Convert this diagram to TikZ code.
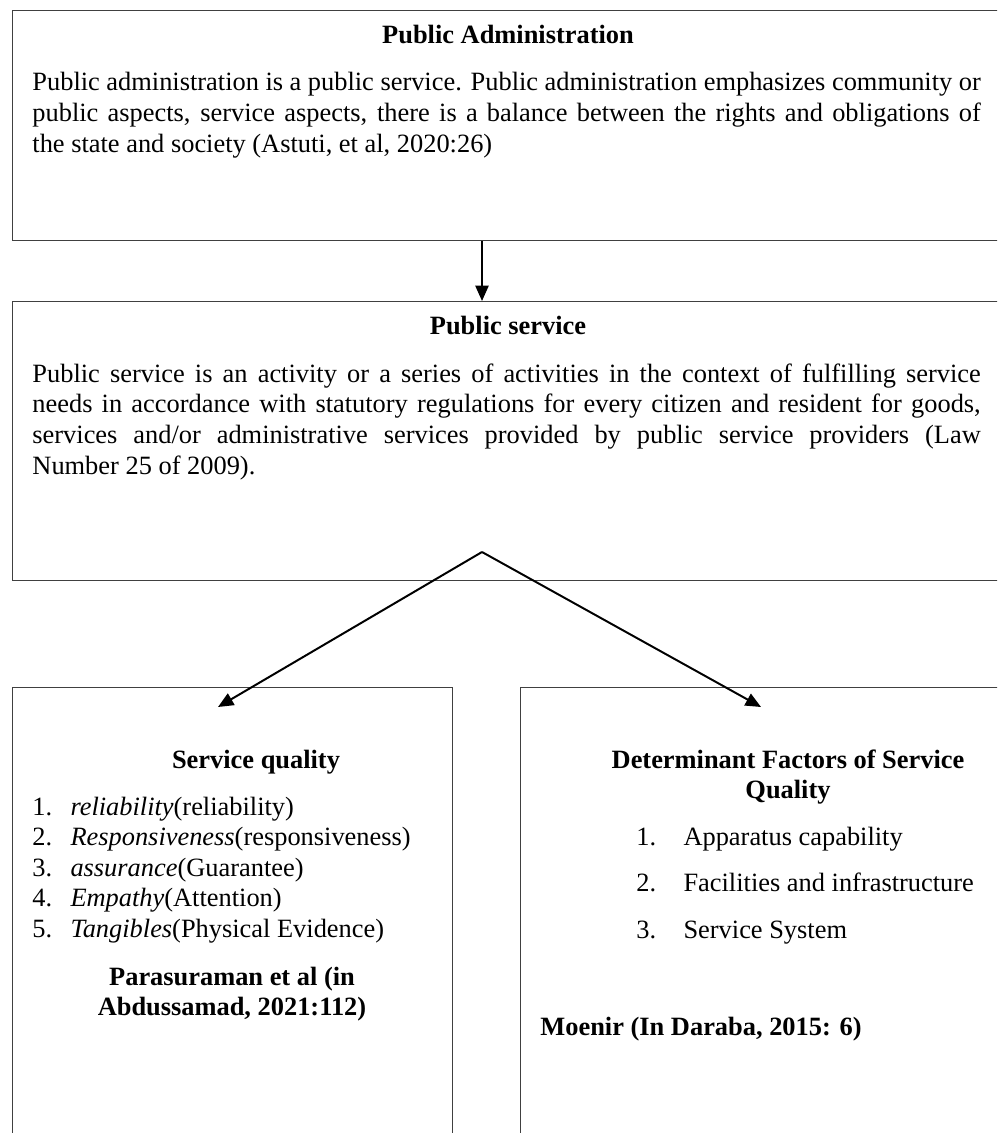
\documentclass[tikz,border=0pt]{standalone}
\usepackage{fontspec}
\setmainfont[Ligatures=NoCommon]{Liberation Serif}
\usepackage{tikz}
\usetikzlibrary{arrows.meta,positioning,calc}

\begin{document}
\begin{tikzpicture}[
    x=0.4545pt, y=-0.4545pt,
    panel/.style={rectangle, draw=black!75, line width=0.55pt, anchor=north west, inner sep=0pt},
    heading/.style={font=\fontsize{12}{13.6}\selectfont\bfseries, inner sep=0pt, anchor=base},
    body/.style={font=\fontsize{12}{13.95}\selectfont, text width=431pt, align=justify, inner sep=0pt, anchor=base west},
    list/.style={font=\fontsize{12}{13.86}\selectfont, align=left, inner sep=0pt, anchor=base west},
    arrow/.style={-{Triangle[length=7pt, width=6pt]}, line width=0.9pt, black}
]
    \useasboundingbox (0,0) rectangle (997,1133);
    \clip (0,0) rectangle (997,1133);

    % boxes
    \node[panel, minimum width=453.6pt, minimum height=104.5pt] (admin) at (12,10) {};
    \node[panel, minimum width=453.6pt, minimum height=126.8pt] (service) at (12,301) {};
    \node[panel, minimum width=200pt, minimum height=206pt] (quality) at (12,687) {};
    \node[panel, minimum width=227pt, minimum height=206pt] (factors) at (520,687) {};

    % public administration
    \node[heading] (adminTitle) at (508,44) {Public Administration};
    \node[body] (adminText) at (32,91) {Public administration is a public service. Public administration emphasizes community or\linebreak public aspects, service aspects, there is a balance between the rights and obligations of\linebreak the state and society (Astuti, et al, 2020:26)};

    % public service
    \node[heading] (serviceTitle) at (508,335) {Public service};
    \node[body] (serviceText) at (32,382) {Public service is an activity or a series of activities in the context of fulfilling service\linebreak needs in accordance with statutory regulations for every citizen and resident for goods,\linebreak services and/or administrative services provided by public service providers (Law\linebreak Number 25 of 2009).};

    % service quality (multi-line nodes sit on their last baseline)
    \node[heading] (qualityTitle) at (256,768) {Service quality};
    \node[list] (qualityList) at (32,937) {%
        \makebox[17.3pt][l]{1.}\textit{reliability}(reliability)\\
        \makebox[17.3pt][l]{2.}\textit{Responsiveness}(responsiveness)\\
        \makebox[17.3pt][l]{3.}\textit{assurance}(Guarantee)\\
        \makebox[17.3pt][l]{4.}\textit{Empathy}(Attention)\\
        \makebox[17.3pt][l]{5.}\textit{Tangibles}(Physical Evidence)};
    \node[heading, align=center] (qualitySource) at (232,1015) {Parasuraman et al (in\\Abdussamad, 2021:112)};

    % determinant factors
    \node[heading, align=center] (factorsTitle) at (788,798) {Determinant Factors of Service\\Quality};
    \node[list, font=\fontsize{12}{21.1}\selectfont] (factorsList) at (636,938) {%
        \makebox[21.4pt][l]{1.}Apparatus capability\\
        \makebox[21.4pt][l]{2.}Facilities and infrastructure\\
        \makebox[21.4pt][l]{3.}Service System};
    \node[heading, anchor=base west] (factorsSource) at (540,1035) {Moenir (In Daraba, 2015: 6)};

    % connectors
    \coordinate (apex) at (482,552);
    \coordinate (qualityTip) at (218,707);
    \coordinate (factorsTip) at (761,707);
    \draw[arrow] (admin.south -| apex) -- (service.north -| apex);
    \draw[arrow] (apex) -- (qualityTip);
    \draw[arrow] (apex) -- (factorsTip);
\end{tikzpicture}
\end{document}
